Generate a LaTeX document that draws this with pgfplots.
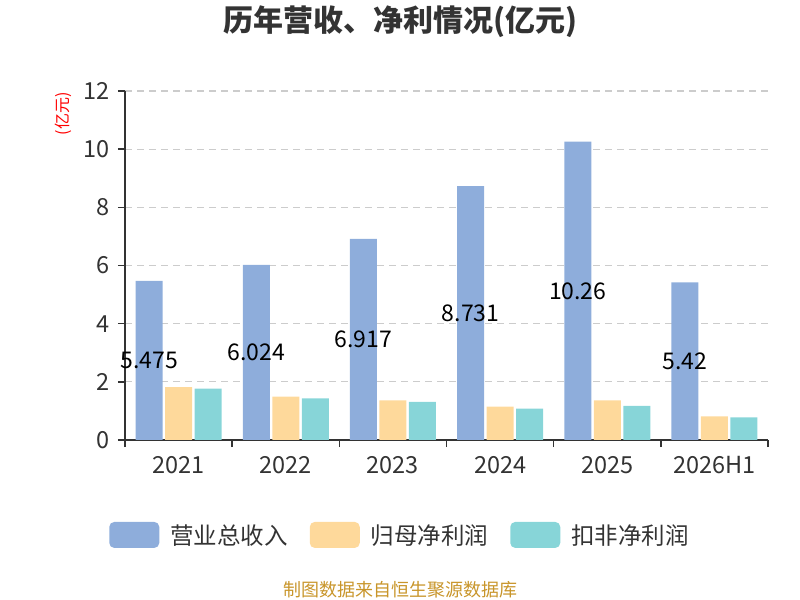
\documentclass[border=0pt]{standalone}
\usepackage{fontspec}
\setmainfont{Noto Sans CJK SC}
\usepackage{pgfplots}
\usepackage{pgfplotstable}
\pgfplotsset{compat=1.18}
\definecolor{cblue}{HTML}{8EADDB}
\definecolor{corange}{HTML}{FED99B}
\definecolor{cteal}{HTML}{87D5D8}
\definecolor{ctxt}{HTML}{333333}
\definecolor{cgrid}{HTML}{CCCCCC}
\definecolor{cfoot}{HTML}{C8952A}

\pgfplotstableread{
x rev np npd lab
0 5.475 1.82 1.77 5.475
1 6.024 1.49 1.43 6.024
2 6.917 1.36 1.31 6.917
3 8.731 1.15 1.08 8.731
4 10.26 1.36 1.17 10.26
5 5.42  0.81 0.78 5.42
}\data

\pgfplotsset{
  mybar/.style={ybar, bar width=27bp, draw=none, fill=#1,
    legend image code/.code={\fill[##1, rounded corners=5bp] (0bp,-13bp) rectangle (50bp,13bp);}},
}

\begin{document}
\begin{tikzpicture}
\path[use as bounding box] (0,0) rectangle (800bp,600bp);
\node[font=\bfseries\fontsize{30bp}{34bp}\selectfont, text=ctxt] at (400bp,578bp) {历年营收、净利情况(亿元)};
\node[font=\fontsize{18bp}{22bp}\selectfont, text=cfoot] at (400bp,10bp) {制图数据来自恒生聚源数据库};
\node[font=\fontsize{16bp}{18bp}\selectfont, text=red, rotate=90] at (63bp,486bp) {(亿元)};
\begin{axis}[
  at={(125bp,160bp)}, anchor=south west,
  scale only axis, width=643bp, height=349bp,
  xmin=-0.5, xmax=5.5, ymin=0, ymax=12,
  ytick={0,2,...,12},
  xtick={0,...,5},
  xticklabels={2021,2022,2023,2024,2025,2026H1},
  minor xtick={-0.5,0.5,...,5.5},
  major x tick style={draw=none},
  minor x tick style={ctxt, line width=1.5bp},
  major y tick style={ctxt, line width=1.5bp},
  tick align=outside,
  major tick length=7bp, minor tick length=7bp,
  axis lines*=left,
  axis line style={ctxt, line width=1.5bp, -},
  ymajorgrids,
  major y grid style={cgrid, line width=1.2bp, dash pattern=on 7bp off 5bp},
  tick label style={font=\fontsize{23.5bp}{27bp}\selectfont, text=ctxt},
  /pgf/number format/assume math mode=true,
  xticklabel style={yshift=-6bp},
  yticklabel style={xshift=-5bp},
  legend style={at={(0.4277,-0.272)}, anchor=center, draw=none, fill=none,
    legend columns=3, font=\fontsize{23.5bp}{26bp}\selectfont, text=ctxt,
    /tikz/every odd column/.append style={column sep=9bp},
    /tikz/every even column/.append style={column sep=20bp}},
]
\addplot[mybar=cblue, bar shift=-29.5bp] table[x=x, y=rev] {\data};
\addplot[mybar=corange, bar shift=0bp] table[x=x, y=np] {\data};
\addplot[mybar=cteal, bar shift=29.5bp] table[x=x, y=npd] {\data};
\addplot[forget plot, draw=none, mark=none, nodes near coords, point meta=explicit symbolic,
  nodes near coords style={anchor=center, xshift=-29.5bp, yshift=0bp, text=black, font=\fontsize{23bp}{26bp}\selectfont}]
  table[x=x, y expr=\thisrow{rev}/2, meta=lab] {\data};
\legend{营业总收入,归母净利润,扣非净利润}
\end{axis}
\end{tikzpicture}
\end{document}
